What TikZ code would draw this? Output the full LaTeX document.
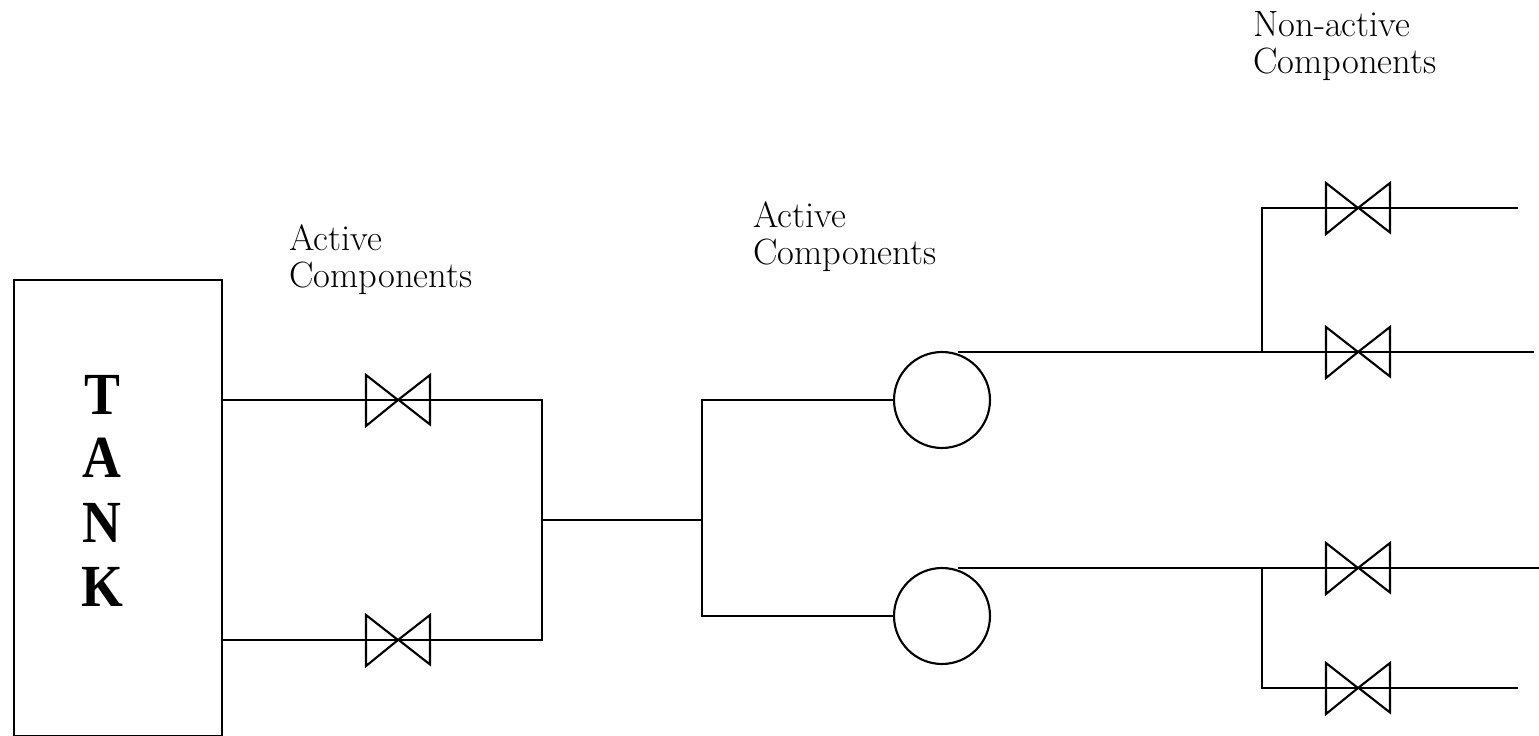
\documentclass[tikz,border=0pt]{standalone}
\usepackage{fontspec}
\newfontfamily\tankfont{Liberation Serif}
\usetikzlibrary{positioning}
\tikzset{
  pipe/.style={line width=1.2pt},
  valvept/.style={inner sep=0pt,minimum size=0pt},
  pump/.style={circle,draw,line width=1.2pt,minimum size=1.92cm,inner sep=0pt},
  lbl/.style={align=left,anchor=north west,inner sep=0pt,font=\fontsize{20.8}{21.2}\selectfont},
  tanklbl/.style={inner sep=0pt,font=\tankfont\fontsize{34}{36}\selectfont\bfseries}
}
\newcommand{\valve}[2]{%
  \node[valvept] (#2) at (#1) {};
  \draw[pipe] (#2) -- ++(-32,-25) -- ++(0,51) -- (#2) -- ++(32,-25) -- ++(0,49.5) -- cycle;
}
\begin{document}
\begin{tikzpicture}[x=0.02cm,y=-0.02cm]
  \useasboundingbox (0,0) rectangle (1539,736);
  % tank
  \node[draw,line width=1.2pt,minimum width=4.16cm,minimum height=9.12cm,inner sep=0pt] (tank) at (118,508) {};
  \foreach \c/\y in {T/395,A/458,N/523,K/587}
    \node[tanklbl] (tank\c) at (102,\y) {\scalebox{.9}[1]{\c}};
  % valves
  \valve{398,400}{vtop}
  \valve{398,640}{vbot}
  \valve{1358,208}{va}
  \valve{1358,352}{vb}
  \valve{1358,568}{vc}
  \valve{1358,688}{vd}
  % pumps
  \node[pump] (ptop) at (942,400) {};
  \node[pump] (pbot) at (942,616) {};
  \coordinate (tanktop) at (222,400);
  \coordinate (tankbot) at (222,640);
  \coordinate (joinl) at (542,520);
  \coordinate (joinr) at (702,520);
  \coordinate (ptopout) at (958,352);
  \coordinate (pbotout) at (958,568);
  \coordinate (splita) at (1262,352);
  \coordinate (splitd) at (1262,568);
  \coordinate (enda) at (1518,208);
  \coordinate (endb) at (1534,352);
  \coordinate (endc) at (1539,568);
  \coordinate (endd) at (1518,688);
  % piping
  \draw[pipe] (tanktop) -- (vtop) -- (vtop -| joinl) -- (vbot -| joinl) -- (vbot) -- (tankbot);
  \draw[pipe] (joinl) -- (joinr);
  \draw[pipe] (ptop.west) -- (ptop.west -| joinr) -- (pbot.west -| joinr) -- (pbot.west);
  \draw[pipe] (ptopout) -- (endb);
  \draw[pipe] (pbotout) -- (endc);
  \draw[pipe] (splita) -- (va -| splita) -- (enda);
  \draw[pipe] (splitd) -- (vd -| splitd) -- (endd);
  % labels
  \node[lbl] (lbla) at (289,224) {Active\\Components};
  \node[lbl] (lblb) at (753,201) {Active\\Components};
  \node[lbl] (lblc) at (1253,11) {Non-active\\Components};
\end{tikzpicture}
\end{document}
